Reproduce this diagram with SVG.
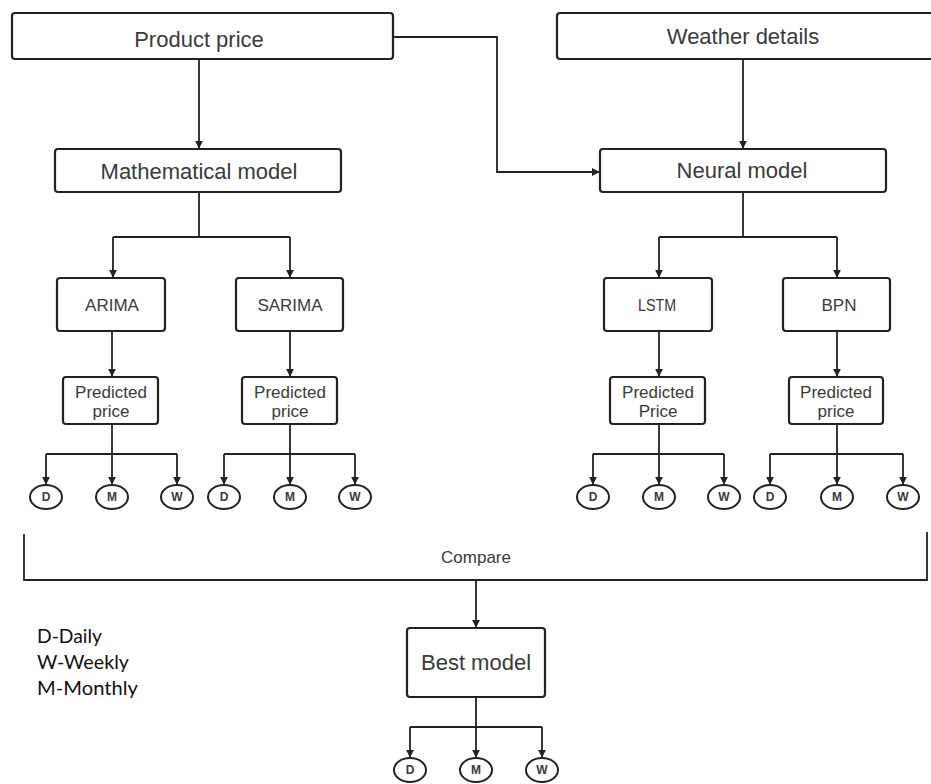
<svg xmlns="http://www.w3.org/2000/svg" width="931" height="784" viewBox="0 0 931 784">
<style>
.box{fill:#fff;stroke:#222;stroke-width:2.2}
.ell{fill:#fff;stroke:#222;stroke-width:2}
.t{font-family:"Liberation Sans",Arial,sans-serif;fill:#3a3a3a;text-anchor:middle}
.big{font-size:22px}
.mid{font-size:17px}
.c{font-size:12px;font-weight:bold}
.leg{font-family:Lato,"Liberation Sans",sans-serif;font-size:20px;fill:#111}
.ln{fill:none;stroke:#222;stroke-width:1.8}
.arr{fill:none;stroke:#222;stroke-width:1.8;marker-end:url(#ah)}
</style>
<defs>
<marker id="ah" viewBox="0 0 10 10" refX="9" refY="5" markerWidth="8" markerHeight="8" markerUnits="userSpaceOnUse" orient="auto">
<path d="M0,0 L10,5 L0,10 z" fill="#222"/>
</marker>
</defs>
<rect width="931" height="784" fill="#fff"/>

<g id="connectors">
<path class="arr" d="M199,59 V148"/>
<path class="arr" d="M393,37 H497 V172 H599"/>
<path class="arr" d="M743,59 V148"/>
<path class="ln" d="M199,192 V237 M113,237 H290"/>
<path class="arr" d="M113,237 V277"/>
<path class="arr" d="M290,237 V277"/>
<path class="ln" d="M743,192 V237 M659,237 H837"/>
<path class="arr" d="M659,237 V277"/>
<path class="arr" d="M837,237 V277"/>
<path class="arr" d="M112,331 V376"/>
<path class="arr" d="M290,331 V376"/>
<path class="arr" d="M659,331 V376"/>
<path class="arr" d="M837,331 V376"/>
<path class="ln" d="M46,454 H177 M224,454 H355 M593,454 H724 M770,454 H903"/>
<path class="arr" d="M112,424 V484"/>
<path class="arr" d="M46,454 V484"/>
<path class="arr" d="M177,454 V484"/>
<path class="arr" d="M290,424 V484"/>
<path class="arr" d="M224,454 V484"/>
<path class="arr" d="M355,454 V484"/>
<path class="arr" d="M659,424 V484"/>
<path class="arr" d="M593,454 V484"/>
<path class="arr" d="M724,454 V484"/>
<path class="arr" d="M837,424 V484"/>
<path class="arr" d="M770,454 V484"/>
<path class="arr" d="M903,454 V484"/>
<path class="ln" d="M24,534 V580 H927 V532" stroke-width="2.2"/>
<path class="arr" d="M476,580 V627"/>
<path class="ln" d="M476,697 V727 M410,727 H542"/>
<path class="arr" d="M410,727 V757"/>
<path class="arr" d="M476,727 V757"/>
<path class="arr" d="M542,727 V757"/>
</g>

<g id="product-price"><rect class="box" x="12" y="13" width="381" height="46" rx="3"/><text class="t big" x="199" y="47">Product price</text></g>
<g id="weather-details"><rect class="box" x="557" y="13" width="380" height="46" rx="3"/><text class="t big" x="743" y="44">Weather details</text></g>
<g id="mathematical-model"><rect class="box" x="55" y="149" width="286" height="43" rx="3"/><text class="t big" x="199" y="179">Mathematical model</text></g>
<g id="neural-model"><rect class="box" x="600" y="149" width="286" height="43" rx="3"/><text class="t big" x="742" y="178">Neural model</text></g>

<g id="arima"><rect class="box" x="57" y="278" width="108" height="53" rx="3"/><text class="t mid" x="112" y="311">ARIMA</text></g>
<g id="sarima"><rect class="box" x="236" y="278" width="107" height="53" rx="3"/><text class="t mid" x="290" y="311">SARIMA</text></g>
<g id="lstm"><rect class="box" x="604" y="278" width="108" height="53" rx="3"/><text class="t mid" x="657" y="311" textLength="38" lengthAdjust="spacingAndGlyphs">LSTM</text></g>
<g id="bpn"><rect class="box" x="783" y="278" width="107" height="53" rx="3"/><text class="t mid" x="839" y="311">BPN</text></g>

<g id="pred-arima"><rect class="box" x="63" y="377" width="95" height="47" rx="3"/><text class="t mid" x="111" y="398">Predicted</text><text class="t mid" x="111" y="417">price</text></g>
<g id="pred-sarima"><rect class="box" x="242" y="377" width="95" height="47" rx="3"/><text class="t mid" x="290" y="398">Predicted</text><text class="t mid" x="290" y="417">price</text></g>
<g id="pred-lstm"><rect class="box" x="610" y="377" width="95" height="47" rx="3"/><text class="t mid" x="658" y="398">Predicted</text><text class="t mid" x="658" y="417">Price</text></g>
<g id="pred-bpn"><rect class="box" x="789" y="377" width="94" height="47" rx="3"/><text class="t mid" x="836" y="398">Predicted</text><text class="t mid" x="836" y="417">price</text></g>

<g id="arima-d"><ellipse class="ell" cx="46" cy="497" rx="16" ry="12"/><text class="t c" x="46" y="501">D</text></g>
<g id="arima-m"><ellipse class="ell" cx="112" cy="497" rx="16" ry="12"/><text class="t c" x="112" y="501">M</text></g>
<g id="arima-w"><ellipse class="ell" cx="177" cy="497" rx="16" ry="12"/><text class="t c" x="177" y="501">W</text></g>
<g id="sarima-d"><ellipse class="ell" cx="224" cy="497" rx="16" ry="12"/><text class="t c" x="224" y="501">D</text></g>
<g id="sarima-m"><ellipse class="ell" cx="290" cy="497" rx="16" ry="12"/><text class="t c" x="290" y="501">M</text></g>
<g id="sarima-w"><ellipse class="ell" cx="355" cy="497" rx="16" ry="12"/><text class="t c" x="355" y="501">W</text></g>
<g id="lstm-d"><ellipse class="ell" cx="593" cy="497" rx="16" ry="12"/><text class="t c" x="593" y="501">D</text></g>
<g id="lstm-m"><ellipse class="ell" cx="659" cy="497" rx="16" ry="12"/><text class="t c" x="659" y="501">M</text></g>
<g id="lstm-w"><ellipse class="ell" cx="724" cy="497" rx="16" ry="12"/><text class="t c" x="724" y="501">W</text></g>
<g id="bpn-d"><ellipse class="ell" cx="770" cy="497" rx="16" ry="12"/><text class="t c" x="770" y="501">D</text></g>
<g id="bpn-m"><ellipse class="ell" cx="837" cy="497" rx="16" ry="12"/><text class="t c" x="837" y="501">M</text></g>
<g id="bpn-w"><ellipse class="ell" cx="903" cy="497" rx="16" ry="12"/><text class="t c" x="903" y="501">W</text></g>

<g id="compare"><text class="t mid" x="476" y="563">Compare</text></g>

<g id="best-model"><rect class="box" x="407" y="628" width="138" height="69" rx="3"/><text class="t big" x="476" y="670">Best model</text></g>
<g id="best-d"><ellipse class="ell" cx="410" cy="770" rx="16" ry="12"/><text class="t c" x="410" y="774">D</text></g>
<g id="best-m"><ellipse class="ell" cx="476" cy="770" rx="16" ry="12"/><text class="t c" x="476" y="774">M</text></g>
<g id="best-w"><ellipse class="ell" cx="542" cy="770" rx="16" ry="12"/><text class="t c" x="542" y="774">W</text></g>

<g id="legend">
<text class="leg" x="37" y="643" textLength="65" lengthAdjust="spacingAndGlyphs">D-Daily</text>
<text class="leg" x="37" y="669" textLength="92" lengthAdjust="spacingAndGlyphs">W-Weekly</text>
<text class="leg" x="37" y="695" textLength="101" lengthAdjust="spacingAndGlyphs">M-Monthly</text>
</g>
</svg>
